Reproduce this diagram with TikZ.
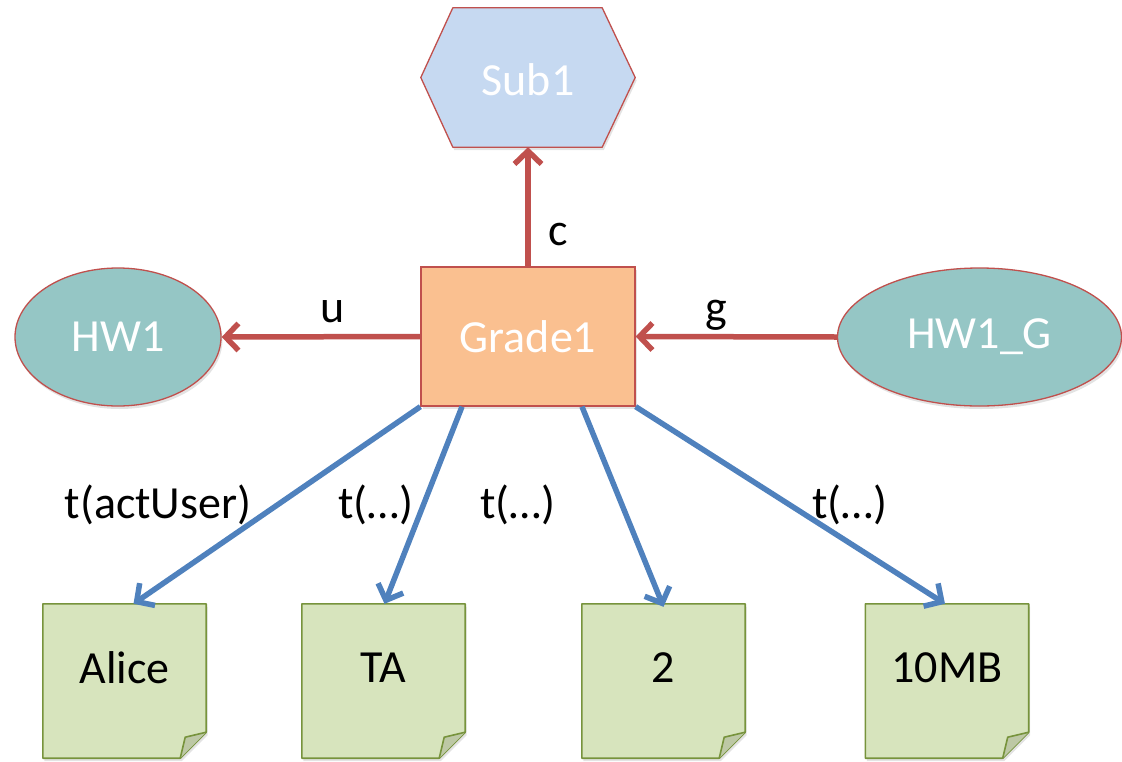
\documentclass[tikz,border=0pt]{standalone}
\usepackage{fontspec}
\setmainfont{Carlito}
\usetikzlibrary{arrows.meta,shapes.geometric,shadows,calc}
\definecolor{redline}{HTML}{C0504D}
\definecolor{blueline}{HTML}{4F81BD}
\definecolor{hexfill}{HTML}{C6D9F1}
\definecolor{orangefill}{HTML}{FAC090}
\definecolor{tealfill}{HTML}{95C6C5}
\definecolor{notefill}{HTML}{D7E4BD}
\definecolor{noteline}{HTML}{77933C}
\definecolor{foldfill}{HTML}{BDC8A5}
\tikzset{
  every node/.style={font=\fontsize{46}{55}\selectfont, inner sep=0pt},
  shade/.style={drop shadow={shadow xshift=1.5pt, shadow yshift=-3pt, opacity=0.22}},
  whitetext/.style={text=white},
  greenbox/.style={rectangle, minimum width=163pt, minimum height=154pt},
  rednode/.style={draw=redline, line width=1.3pt, shade},
  ell/.style={ellipse, rednode, fill=tealfill, text=white},
  redarrow/.style={draw=redline, line width=5.5pt,
    -{Straight Barb[length=13pt,width=27pt,line width=5.5pt]}},
  bluearrow/.style={draw=blueline, line width=5.5pt,
    -{Straight Barb[length=13pt,width=27pt,line width=5.5pt]}},
  lbl/.style={anchor=base, text=black},
}
\newcommand\stickynote[4]{%
  \node[greenbox] (#1) at (#2,#3) {};
  \filldraw[fill=notefill, draw=noteline, line width=1.6pt, line join=round, shade]
    (#1.north west) -- (#1.north east) -- ($(#1.south east)+(0,-26)$)
    -- ($(#1.south east)+(-26,0)$) -- (#1.south west) -- cycle;
  \filldraw[fill=foldfill, draw=noteline, line width=1.6pt, line join=round]
    ($(#1.south east)+(0,-26)$) .. controls ($(#1.south east)+(-10,-24)$) .. ($(#1.south east)+(-21,-21)$)
    -- ($(#1.south east)+(-26,0)$);
  \node[text=black] (#1-text) at ($(#1.center)+(0,-13)$) {#4};
}
\begin{document}
\begin{tikzpicture}[x=1pt, y=-1pt]
\path[use as bounding box] (0,0) rectangle (1122,761);

% Sub1 hexagon
\node[rectangle, minimum width=214pt, minimum height=139pt] (sub1) at (528,77.5) {};
\filldraw[fill=hexfill, draw=redline, line width=1.3pt, line join=round, shade]
  (sub1.west) -- ($(sub1.north west)+(32,0)$) -- ($(sub1.north east)+(-33,0)$)
  -- (sub1.east) -- ($(sub1.south east)+(-33,0)$) -- ($(sub1.south west)+(32,0)$) -- cycle;
\node[whitetext] (sub1-text) at ($(sub1.center)+(0,2)$) {Sub1};

% Grade1
\node[rectangle, rednode, fill=orangefill, text=white,
  minimum width=214pt, minimum height=139pt] (grade) at (528,336.5) {Grade1};

% ellipses
\node[ell, minimum width=206pt, minimum height=138pt] (hw1) at (118,337) {HW1};
\node[ell, minimum width=284pt, minimum height=138pt] (hw1g) at (979.5,337) {HW1\_G};

% notes
\stickynote{alice}{124.5}{681}{Alice}
\stickynote{ta}{383.5}{681}{TA}
\stickynote{two}{663.5}{681}{2}
\stickynote{mb}{947}{681}{10MB}

% red connectors
\draw[redarrow] (grade.north) -- (sub1.south);
\draw[redarrow] (grade.west) -- (hw1.east);
\draw[redarrow] (hw1g.west) -- (grade.east);

% blue connectors
\draw[bluearrow] (grade.south west) -- ([xshift=9pt]alice.north);
\draw[bluearrow] ([xshift=-66pt]grade.south) -- ([xshift=1pt]ta.north);
\draw[bluearrow] ([xshift=54pt]grade.south) -- ([yshift=-3pt]two.north);
\draw[bluearrow] (grade.south east) -- ([xshift=-2pt]mb.north);

% labels
\node[lbl] (lc) at (558,245) {c};
\node[lbl] (lu) at (333,322) {u};
\node[lbl] (lg) at (716,322) {g};
\node[lbl] (lt1) at (158,518) {t(actUser)};
\node[lbl] (lt2) at (376,518) {t(…)};
\node[lbl] (lt3) at (518,518) {t(…)};
\node[lbl] (lt4) at (850,518) {t(…)};
\end{tikzpicture}
\end{document}
